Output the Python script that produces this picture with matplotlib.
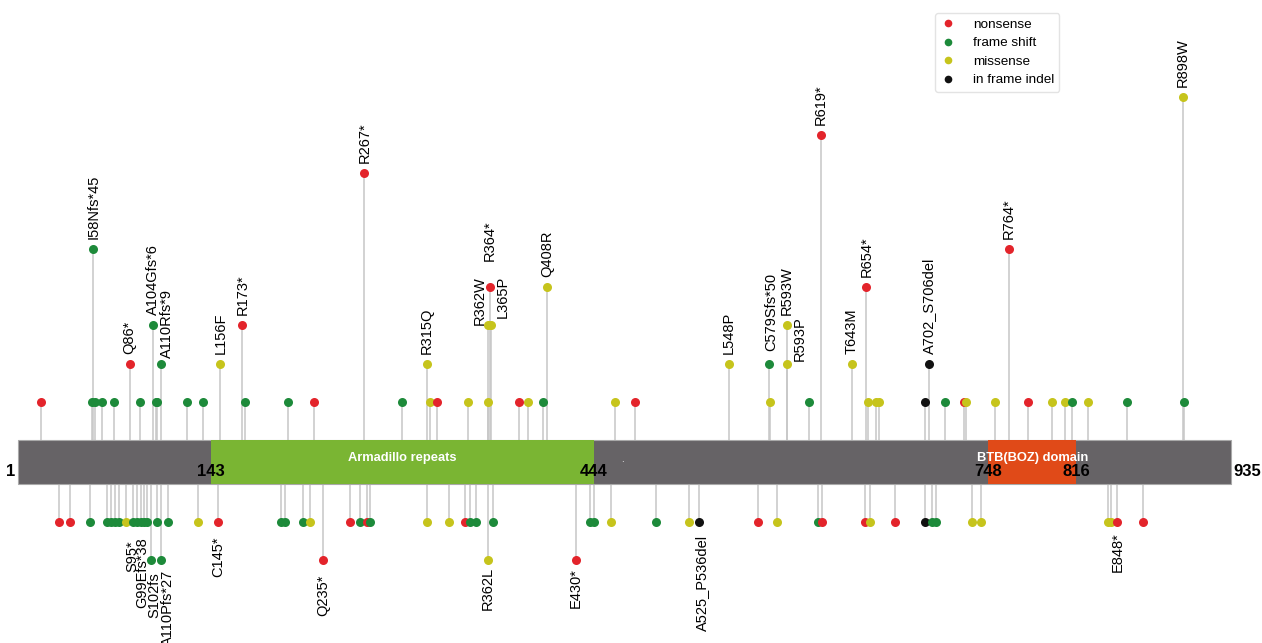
import matplotlib
matplotlib.use('Agg')
import matplotlib.pyplot as plt
from matplotlib.lines import Line2D
from matplotlib.patches import Rectangle

plt.rcParams['font.family'] = ['Liberation Sans', 'DejaVu Sans']

# protein and domains
protein_length = 935
domain_names = ['Armadillo repeats', 'BTB(BOZ) domain']
domain_start = [149, 748]
domain_end = [444, 816]
boundary_pos = [0, 149, 444, 748, 816, 935]
boundary_text = ['1', '143', '444', '748', '816', '935']

type_names = {'N': 'nonsense', 'F': 'frame shift', 'M': 'missense', 'I': 'in frame indel'}

# mutations drawn above the protein
above_pos = [18, 57, 58, 59.5, 65, 74, 86, 94, 104, 106, 107.5, 110, 130.5, 142.5,
             156, 173, 175, 208, 228, 267, 296, 315, 318, 323, 347, 362, 362, 364,
             365, 386, 393, 404.5, 408, 460, 476, 548, 579, 579.5, 593, 593, 610,
             619, 643, 654, 655.5, 661.5, 664, 699, 702, 714.5, 729, 730.5, 753,
             764, 778.5, 797.5, 807, 812.5, 825, 855, 898, 899]
above_count = [1, 1, 5, 1, 1, 1, 2, 1, 3, 1, 1, 2, 1, 1,
               2, 3, 1, 1, 1, 7, 1, 2, 1, 1, 1, 3, 1, 4,
               3, 1, 1, 1, 4, 1, 1, 2, 2, 1, 3, 2, 1,
               8, 2, 4, 1, 1, 1, 1, 2, 1, 1, 1, 1,
               5, 1, 1, 1, 1, 1, 1, 9, 1]
above_type = ['N', 'F', 'F', 'F', 'F', 'F', 'N', 'F', 'F', 'F', 'F', 'F', 'F', 'F',
              'M', 'N', 'F', 'F', 'N', 'N', 'F', 'M', 'M', 'N', 'M', 'M', 'M', 'N',
              'M', 'N', 'M', 'F', 'M', 'M', 'N', 'M', 'F', 'M', 'M', 'M', 'F',
              'N', 'M', 'N', 'M', 'M', 'M', 'I', 'I', 'F', 'N', 'M', 'M',
              'N', 'N', 'M', 'M', 'F', 'M', 'F', 'M', 'F']
above_label = ['', '', 'I58Nfs*45', '', '', '', 'Q86*', '', 'A104Gfs*6', '', '', 'A110Rfs*9', '', '',
               'L156F', 'R173*', '', '', '', 'R267*', '', 'R315Q', '', '', '', 'R362W', '', 'R364*',
               'L365P', '', '', '', 'Q408R', '', '', 'L548P', 'C579Sfs*50', '', 'R593W', 'R593P', '',
               'R619*', 'T643M', 'R654*', '', '', '', '', 'A702_S706del', '', '', '', '',
               'R764*', '', '', '', '', '', '', 'R898W', '']

# mutations drawn below the protein
below_pos = [31.5, 40, 55.5, 68.5, 71.5, 74.5, 77.5, 83, 89, 92, 94.5, 97, 99.5, 102.5,
             107, 110, 116, 139, 154, 203, 206, 219.5, 225, 235, 256, 264, 269, 271,
             315.5, 332, 344.5, 348.5, 353, 362, 366, 430, 441, 444, 457, 492, 517.5,
             525, 570.5, 585, 617, 619.5, 653, 657, 676.5, 699, 704.5, 707.5, 735.5,
             742.5, 840.5, 842.5, 847.5, 867]
below_count = [1, 1, 1, 1, 1, 1, 1, 1, 1, 1, 1, 1, 1, 2,
               1, 2, 1, 1, 1, 1, 1, 1, 1, 2, 1, 1, 1, 1,
               1, 1, 1, 1, 1, 2, 1, 2, 1, 1, 1, 1, 1,
               1, 1, 1, 1, 1, 1, 1, 1, 1, 1, 1, 1,
               1, 1, 1, 1, 1]
below_type = ['N', 'N', 'F', 'F', 'F', 'F', 'F', 'M', 'F', 'F', 'F', 'F', 'F', 'F',
              'F', 'F', 'F', 'M', 'N', 'F', 'F', 'F', 'M', 'N', 'N', 'F', 'N', 'F',
              'M', 'M', 'N', 'F', 'F', 'M', 'F', 'N', 'F', 'F', 'M', 'F', 'M',
              'I', 'N', 'M', 'F', 'N', 'N', 'M', 'N', 'I', 'F', 'F', 'M',
              'M', 'M', 'M', 'N', 'N']
below_label = ['', '', '', '', '', '', '', '', 'S95*', '', '', 'G99Efs*38', '', 'S102fs',
               '', 'A110Pfs*27', '', '', 'C145*', '', '', '', '', 'Q235*', '', '', '', '',
               '', '', '', '', '', 'R362L', '', 'E430*', '', '', '', '', '',
               'A525_P536del', '', '', '', '', '', '', '', '', '', '', '',
               '', '', '', 'E848*', '']

colors = {'N': '#e3242b', 'F': '#1d8a3a', 'M': '#c6c41c', 'I': '#111111'}
stem_color = '#c6c6c6'
BAR_H = 1.17

# label nudges in pixels (dx, extra distance from dot)
nudge = {'R362W': (-8, -10), 'L365P': (11, -3), 'R364*': (0, 16), 'A110Rfs*9': (6, -4),
         'R593P': (13, -7), 'C579Sfs*50': (2, 3),
         'S95*': (-1.5, 6), 'G99Efs*38': (-2, 3), 'S102fs': (3.5, 0), 'A110Pfs*27': (7, -3),
         'C145*': (0, 2), 'Q235*': (0, 2), 'R362L': (0, -6), 'E430*': (0, -4),
         'A525_P536del': (3.5, 1), 'E848*': (0, -2)}

fig = plt.figure(figsize=(12.62, 6.43), dpi=100)
ax = fig.add_axes([0, 0, 1, 1])
ax.set_xlim(-13.9, 959.1)
ax.set_ylim(-5.34, 11.55)
ax.axis('off')

# stems
for p, c in zip(above_pos, above_count):
    ax.plot([p, p], [0, c], color=stem_color, lw=1.1, zorder=1)
for p, c in zip(below_pos, below_count):
    ax.plot([p, p], [-BAR_H, -BAR_H - c], color=stem_color, lw=1.1, zorder=1)

# protein bar and domains
ax.add_patch(Rectangle((0, -BAR_H), protein_length, BAR_H, facecolor='#666366',
                       edgecolor='#a9a9a9', lw=0.8, zorder=2))
dom_colors = ['#7ab533', '#e04a18']
for name, s, e, col in zip(domain_names, domain_start, domain_end, dom_colors):
    ax.add_patch(Rectangle((s, -BAR_H), e - s, BAR_H, facecolor=col, edgecolor='none', zorder=3))
    ax.text((s + e) / 2, -0.47, name, color='white', fontsize=9.3, fontweight='bold',
            ha='center', va='center', zorder=5)
ax.text(466, -0.5, '.', color='white', fontsize=7, ha='center', va='center', zorder=5)

for p, t in zip(boundary_pos, boundary_text):
    if t == '1':
        ax.annotate(t, (p, -0.84), xytext=(-2, 0), textcoords='offset points',
                    ha='right', va='center', fontsize=12, fontweight='bold', zorder=5)
    elif p == protein_length:
        ax.annotate(t, (p, -0.84), xytext=(2, 0), textcoords='offset points',
                    ha='left', va='center', fontsize=12, fontweight='bold', zorder=5)
    else:
        ax.text(p, -0.84, t, ha='center', va='center', fontsize=12, fontweight='bold', zorder=5)

# dots
for p, c, t in zip(above_pos, above_count, above_type):
    ax.plot(p, c, 'o', color=colors[t], ms=6.5, mec='none', zorder=4)
for p, c, t in zip(below_pos, below_count, below_type):
    ax.plot(p, -BAR_H - c, 'o', color=colors[t], ms=6.5, mec='none', zorder=4)

pt = 0.72  # points per pixel
for p, c, lab in zip(above_pos, above_count, above_label):
    if lab:
        dx, dy = nudge.get(lab, (0, 0))
        ax.annotate(lab, (p, c), xytext=(dx * pt, (10 + dy) * pt), textcoords='offset points',
                    rotation=90, ha='center', va='bottom', fontsize=10.5, zorder=6)
for p, c, lab in zip(below_pos, below_count, below_label):
    if lab:
        dx, dy = nudge.get(lab, (0, 0))
        ax.annotate(lab, (p, -BAR_H - c), xytext=(dx * pt, -(12 + dy) * pt),
                    textcoords='offset points', rotation=90, ha='center', va='top',
                    fontsize=10.5, zorder=6)

handles = [Line2D([], [], marker='o', ls='none', color=colors[k], ms=5.5, mec='none')
           for k in ['N', 'F', 'M', 'I']]
ax.legend(handles, [type_names[k] for k in ['N', 'F', 'M', 'I']], loc='upper left',
          bbox_to_anchor=(0.7355, 0.99), fontsize=9.7, frameon=True, edgecolor='#dddddd',
          handlelength=1.2, handletextpad=1.2, labelspacing=0.45, borderpad=0.4)

fig.savefig('out.png', dpi=100)
